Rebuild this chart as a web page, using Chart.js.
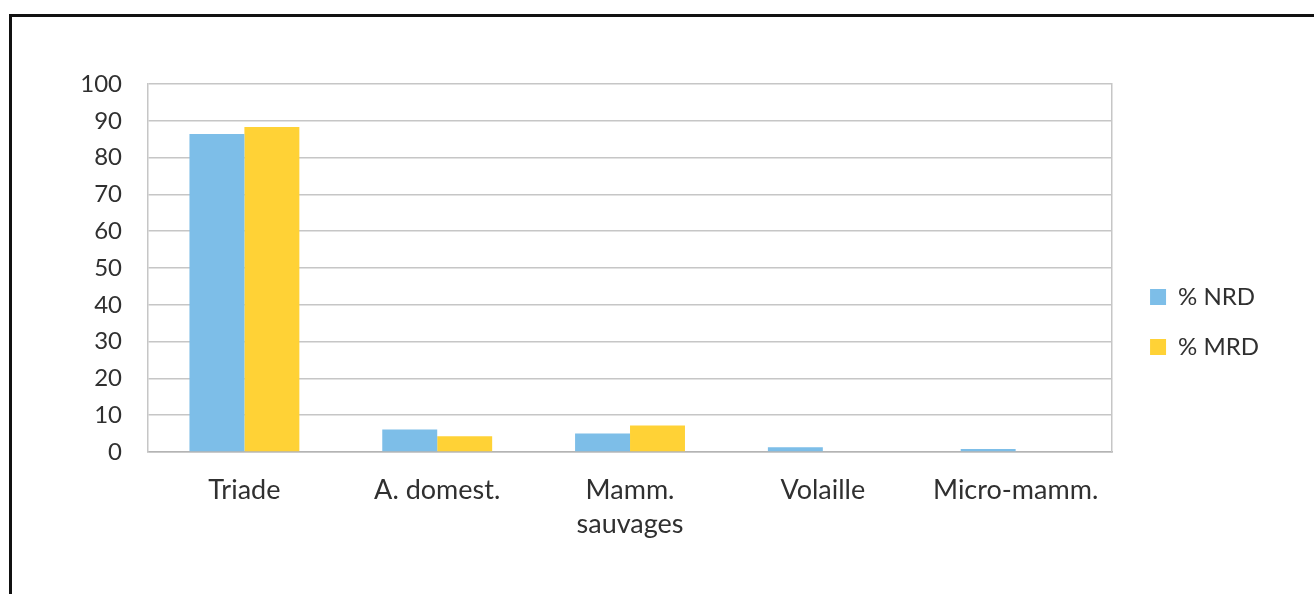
<!DOCTYPE html>
<html lang="fr">
<head>
<meta charset="utf-8">
<title>% NRD / % MRD</title>
<script src="https://cdn.jsdelivr.net/npm/chart.js@4/dist/chart.umd.min.js"></script>
<style>
  html, body { margin: 0; padding: 0; background: #fff; overflow: hidden; }
  #cadre {
    position: absolute; left: 9px; top: 14px;
    width: 1400px; height: 700px;
    border: 3px solid #111;
  }
  #grafico { position: absolute; left: 0; top: 0; }
</style>
</head>
<body>
<div id="cadre"></div>
<canvas id="grafico" width="1314" height="594"></canvas>
<script>
// categories et pourcentages par taxon
const categories = ['Triade', 'A. domest.', ['Mamm.', 'sauvages'], 'Volaille', 'Micro-mamm.'];
const pctNRD = [86.4, 6.1, 5.0, 1.3, 0.8];
const pctMRD = [88.3, 4.3, 7.2, 0, 0];
const yTicks = [0, 10, 20, 30, 40, 50, 60, 70, 80, 90, 100];

const famille = 'Lato, "Liberation Sans", sans-serif';
const police = { family: famille, size: 24 };
const gris = '#c6c6c6';
const texte = '#303030';

const ctx = document.getElementById('grafico').getContext('2d');

new Chart(ctx, {
  type: 'bar',
  data: {
    labels: categories,
    datasets: [
      {
        label: '% NRD',
        data: pctNRD,
        backgroundColor: '#7dbee8',
        categoryPercentage: 0.57,
        barPercentage: 1.0
      },
      {
        label: '% MRD',
        data: pctMRD,
        backgroundColor: '#ffd236',
        categoryPercentage: 0.57,
        barPercentage: 1.0
      }
    ]
  },
  options: {
    responsive: false,
    animation: false,
    layout: { padding: { top: 84, right: 45, bottom: 34, left: 0 } },
    plugins: {
      legend: {
        display: true,
        position: 'right',
        labels: {
          boxWidth: 16,
          boxHeight: 16,
          padding: 26,
          color: texte,
          font: police
        }
      },
      tooltip: { enabled: false }
    },
    scales: {
      x: {
        grid: { display: false, drawTicks: false },
        border: { display: true, color: '#b4b4b4', width: 1.5 },
        ticks: {
          color: texte,
          font: { family: famille, size: 27, lineHeight: 1.26 },
          padding: 21,
          maxRotation: 0,
          autoSkip: false
        },
        afterFit: s => { s.height = 108; }
      },
      y: {
        min: 0,
        max: 100,
        afterBuildTicks: s => { s.ticks = yTicks.map(v => ({ value: v })); },
        grid: { color: gris, lineWidth: 1.5, drawTicks: false },
        border: { display: true, color: gris, width: 1.5 },
        ticks: { color: texte, font: police, padding: 26 },
        afterFit: s => { s.width = 148; }
      },
      // axe vide à droite : ferme le cadre du graphique
      y2: {
        position: 'right',
        min: 0,
        max: 100,
        grid: { display: false, drawTicks: false },
        border: { display: true, color: gris, width: 1.5 },
        ticks: { display: false },
        afterFit: s => { s.width = 12; }
      }
    }
  }
});
</script>
</body>
</html>
